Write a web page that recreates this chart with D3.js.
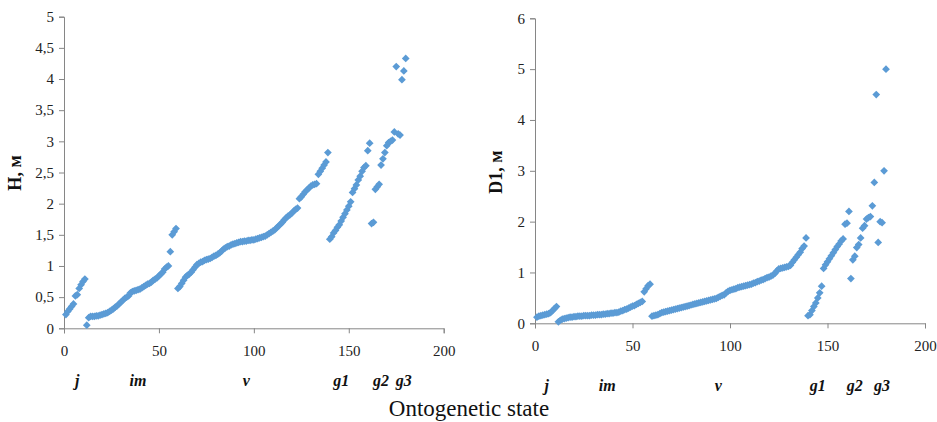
<!DOCTYPE html>
<html lang="en">
<head>
<meta charset="UTF-8">
<title>H and D1 by ontogenetic state</title>
<script src="https://d3js.org/d3.v7.min.js"></script>
<style>
html, body {
  margin: 0;
  padding: 0;
  background-color: white;
}

svg text {
  font-family: "Liberation Serif", "Times New Roman", serif !important;
}

.tick line, .domain {
  stroke: #868686;
}
</style>
</head>
<body>

<div id="chart"></div>

<script>

// --------------------------------------
// Data
// --------------------------------------

// ontogenetic states and how many plants fall in each (x = running index)
const states = ["j", "im", "v", "g1", "g2", "g3"];
const stateCounts = [11, 48, 80, 22, 12, 7];

// where the state names sit along the x axis (index units)
const stateLabelAtH = [7, 39, 96, 146, 167, 179];
const stateLabelAtD = [6, 37, 94, 145, 164, 178];

const xTicks = [0, 50, 100, 150, 200];
const hTicks = [0, 0.5, 1, 1.5, 2, 2.5, 3, 3.5, 4, 4.5, 5];
const dTicks = [0, 1, 2, 3, 4, 5, 6];

// H, m
const heightValues = [
  // j
  0.22, 0.27, 0.31, 0.35, 0.39, 0.52, 0.54, 0.64, 0.70, 0.75, 0.79,
  // im
  0.05, 0.17, 0.19, 0.19, 0.19, 0.20, 0.20, 0.21, 0.22, 0.23, 0.24, 0.25,
  0.27, 0.29, 0.31, 0.34, 0.36, 0.39, 0.42, 0.45, 0.48, 0.50, 0.52, 0.57,
  0.59, 0.60, 0.61, 0.62, 0.63, 0.65, 0.67, 0.69, 0.71, 0.72, 0.74, 0.77,
  0.79, 0.81, 0.84, 0.87, 0.90, 0.95, 0.98, 1.00, 1.23, 1.50, 1.55, 1.60,
  // v
  0.64, 0.67, 0.72, 0.77, 0.82, 0.85, 0.87, 0.90, 0.94, 0.98,
  1.02, 1.04, 1.06, 1.07, 1.09, 1.10, 1.11, 1.12, 1.14, 1.16,
  1.17, 1.19, 1.21, 1.24, 1.27, 1.29, 1.31, 1.32, 1.34, 1.35,
  1.36, 1.37, 1.38, 1.39, 1.39, 1.40, 1.40, 1.41, 1.41, 1.42,
  1.42, 1.43, 1.44, 1.45, 1.46, 1.47, 1.48, 1.50, 1.52, 1.54,
  1.56, 1.58, 1.61, 1.64, 1.67, 1.70, 1.74, 1.77, 1.80, 1.82,
  1.85, 1.88, 1.91, 1.93, 2.08, 2.11, 2.15, 2.19, 2.22, 2.25,
  2.28, 2.30, 2.31, 2.32, 2.47, 2.52, 2.57, 2.62, 2.67, 2.82,
  // g1
  1.43, 1.47, 1.53, 1.57, 1.62, 1.66, 1.72, 1.78, 1.84, 1.90, 1.96,
  2.03, 2.18, 2.24, 2.30, 2.38, 2.44, 2.52, 2.58, 2.61, 2.85, 2.97,
  // g2
  1.68, 1.70, 2.23, 2.27, 2.31, 2.62, 2.72, 2.82, 2.93, 2.98, 3.00, 3.02,
  // g3
  3.15, 4.20, 3.12, 3.10, 3.99, 4.13, 4.33
];

// D1, m
const diameterValues = [
  // j
  0.12, 0.14, 0.15, 0.16, 0.17, 0.18, 0.19, 0.21, 0.25, 0.29, 0.33,
  // im
  0.03, 0.06, 0.08, 0.09, 0.10, 0.11, 0.12, 0.12, 0.13, 0.13, 0.14, 0.14,
  0.14, 0.15, 0.15, 0.15, 0.15, 0.16, 0.16, 0.16, 0.17, 0.17, 0.17, 0.18,
  0.18, 0.19, 0.19, 0.20, 0.20, 0.21, 0.21, 0.22, 0.24, 0.25, 0.27, 0.28,
  0.30, 0.32, 0.34, 0.35, 0.37, 0.39, 0.41, 0.43, 0.62, 0.68, 0.74, 0.77,
  // v
  0.14, 0.15, 0.16, 0.17, 0.19, 0.21, 0.22, 0.23, 0.24, 0.25,
  0.26, 0.27, 0.28, 0.29, 0.30, 0.31, 0.32, 0.33, 0.34, 0.35,
  0.36, 0.37, 0.38, 0.39, 0.40, 0.41, 0.42, 0.43, 0.44, 0.45,
  0.46, 0.47, 0.48, 0.49, 0.51, 0.53, 0.55, 0.56, 0.60, 0.63,
  0.65, 0.66, 0.67, 0.68, 0.70, 0.71, 0.72, 0.73, 0.74, 0.75,
  0.76, 0.77, 0.79, 0.80, 0.82, 0.83, 0.85, 0.86, 0.88, 0.90,
  0.91, 0.93, 0.95, 0.98, 1.03, 1.07, 1.08, 1.09, 1.10, 1.11,
  1.12, 1.14, 1.20, 1.25, 1.30, 1.35, 1.40, 1.47, 1.52, 1.68,
  // g1
  0.15, 0.17, 0.25, 0.33, 0.40, 0.50, 0.60, 0.73, 1.08, 1.15, 1.21,
  1.27, 1.33, 1.39, 1.45, 1.51, 1.56, 1.62, 1.66, 1.95, 1.97, 2.20,
  // g2
  0.88, 1.25, 1.32, 1.49, 1.55, 1.68, 1.87, 1.92, 2.05, 2.08, 2.10, 2.31,
  // g3
  2.77, 4.50, 1.59, 2.00, 1.98, 3.00, 5.00
];

// --------------------------------------
// SVG container
// --------------------------------------

const totalWidth = 937;
const totalHeight = 422;

const svg = d3.select("#chart")
  .append("svg")
  .attr("width", totalWidth)
  .attr("height", totalHeight);

const commaFormat = d => String(d).replace(".", ",");

// --------------------------------------
// One scatter panel
// --------------------------------------

function drawPanel(p) {
  const x = d3.scaleLinear().domain([0, 200]).range([p.left, p.right]);
  const y = d3.scaleLinear().domain([0, p.yMax]).range([p.bottom, p.top]);

  const g = svg.append("g");

  g.append("g")
    .attr("transform", `translate(0,${p.bottom})`)
    .call(d3.axisBottom(x).tickValues(xTicks).tickSize(5).tickPadding(11))
    .call(a => a.attr("font-size", 15))
    .call(a => a.selectAll(".tick text").attr("fill", "#222").attr("dy", "0.8em"));

  g.append("g")
    .attr("transform", `translate(${p.left},0)`)
    .call(d3.axisLeft(y).tickValues(p.yTicks).tickSize(5).tickPadding(5).tickFormat(commaFormat))
    .call(a => a.attr("font-size", 15))
    .call(a => a.selectAll(".tick text").attr("fill", "#222"));

  // points: index 1..N
  g.append("g")
    .selectAll("path")
    .data(p.values)
    .join("path")
    .attr("d", d3.symbol(d3.symbolSquare, 30))
    .attr("transform", (d, i) => `translate(${x(i + 1)},${y(d)}) rotate(45)`)
    .attr("fill", "#5B9BD5");

  // y title
  g.append("text")
    .attr("transform", `translate(${p.titleX},${p.titleY}) rotate(-90)`)
    .attr("text-anchor", "middle")
    .attr("font-weight", "bold")
    .attr("font-size", 18)
    .attr("fill", "#111")
    .text(p.title);

  // ontogenetic state names
  g.append("g")
    .selectAll("text")
    .data(states)
    .join("text")
    .attr("x", (d, i) => x(p.labelAt[i]))
    .attr("y", p.labelY)
    .attr("text-anchor", "middle")
    .attr("font-weight", "bold")
    .attr("font-style", "italic")
    .attr("font-size", 16)
    .attr("fill", "#111")
    .text(d => d);
}

drawPanel({
  values: heightValues, yMax: 5, yTicks: hTicks, labelAt: stateLabelAtH,
  left: 64, right: 443.7, top: 16.7, bottom: 328.3,
  title: "H, м", titleX: 21, titleY: 173, labelY: 386
});

drawPanel({
  values: diameterValues, yMax: 6, yTicks: dTicks, labelAt: stateLabelAtD,
  left: 535, right: 925, top: 18.3, bottom: 323.3,
  title: "D1, м", titleX: 502, titleY: 172, labelY: 391
});

svg.append("text")
  .attr("x", 469)
  .attr("y", 416)
  .attr("text-anchor", "middle")
  .attr("font-size", 23)
  .attr("fill", "#111")
  .text("Ontogenetic state");

</script>
</body>
</html>
